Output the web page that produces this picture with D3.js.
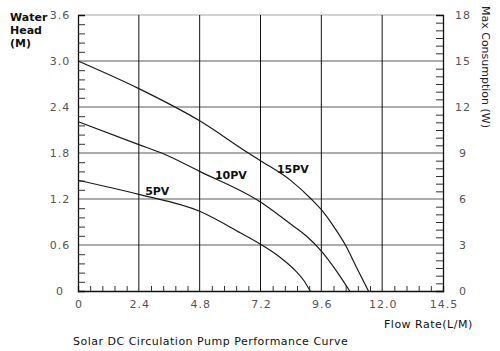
<!DOCTYPE html>
<html>
<head>
<meta charset="utf-8">
<script src="https://cdn.jsdelivr.net/npm/d3@7"></script>
<style>
  body { margin: 0; background: #fff; }
  text { font-family: "DejaVu Sans", sans-serif; }
</style>
</head>
<body>
<div id="chart"></div>
<script>
// curves: flow (L/M) vs head (M)
var flow15 = [0, 2.4, 4.8, 6.72, 7.2, 8.4, 9.2, 9.6, 10.05, 10.55, 11.0, 11.46];
var head15 = [3.0, 2.64, 2.22, 1.8, 1.7, 1.44, 1.2, 1.06, 0.86, 0.6, 0.3, 0];
var flow10 = [0, 2.4, 3.3, 4.8, 7.2, 8.4, 9.0, 9.6, 10.2, 10.72];
var head10 = [2.21, 1.91, 1.8, 1.56, 1.16, 0.87, 0.72, 0.52, 0.26, 0];
var flow5 = [0, 2.4, 4.8, 6.4, 7.2, 7.97, 8.5, 8.9, 9.16];
var head5 = [1.445, 1.26, 1.04, 0.76, 0.61, 0.44, 0.29, 0.14, 0];

var seriesNames = ["15PV", "10PV", "5PV"];
var labelFlow = [7.85, 5.4, 2.65];   // where the curve labels sit
var labelHead = [1.54, 1.46, 1.25];

var xTicks = [0, 2.4, 4.8, 7.2, 9.6, 12.0, 14.4];
var xTickLabels = ["0", "2.4", "4.8", "7.2", "9.6", "12.0", "14.5"];
var yTicks = [0, 0.6, 1.2, 1.8, 2.4, 3.0, 3.6];
var yTickLabels = ["0", "0.6", "1.2", "1.8", "2.4", "3.0", "3.6"];
var wTicks = [0, 3, 6, 9, 12, 15, 18];

var plotLeft = 78, plotRight = 443, plotTop = 15, plotBottom = 291;

var svg = d3.select("#chart")
    .append("svg")
    .attr("width", 500)
    .attr("height", 351)
    .style("background", "#fff");

var x = d3.scaleLinear().domain([0, 14.4]).range([plotLeft, plotRight]);
var y = d3.scaleLinear().domain([0, 3.6]).range([plotBottom, plotTop]);
var yW = d3.scaleLinear().domain([0, 18]).range([plotBottom, plotTop]);

// horizontal grid (grey)
svg.selectAll(".hgrid")
    .data(yTicks.slice(1, 6))
    .enter()
    .append("line")
    .attr("x1", plotLeft).attr("x2", plotRight)
    .attr("y1", function(d) { return y(d); })
    .attr("y2", function(d) { return y(d); })
    .style("stroke", "#909090")
    .style("stroke-width", 1.5);

svg.append("line")
    .attr("x1", plotLeft).attr("x2", plotRight)
    .attr("y1", y(3.6)).attr("y2", y(3.6))
    .style("stroke", "#c4c4c4")
    .style("stroke-width", 1.5);

// vertical grid (black)
svg.selectAll(".vgrid")
    .data(xTicks.slice(1, 6))
    .enter()
    .append("line")
    .attr("y1", plotTop).attr("y2", plotBottom)
    .attr("x1", function(d) { return x(d); })
    .attr("x2", function(d) { return x(d); })
    .style("stroke", "#111")
    .style("stroke-width", 1);

// minor ticks
var minorY = d3.range(1, 30).map(function(i) { return i * 0.12; }).filter(function(v, i) { return (i + 1) % 5 != 0; });
var minorW = d3.range(1, 36).map(function(i) { return i * 0.5; }).filter(function(v, i) { return (i + 1) % 6 != 0; });
var minorX = d3.range(1, 30).map(function(i) { return i * 0.48; }).filter(function(v, i) { return (i + 1) % 5 != 0; });

var gl = svg.append("g")
    .attr("transform", "translate(" + plotLeft + ",0)")
    .call(d3.axisLeft(y).tickValues(minorY).tickSize(-7).tickFormat(""));
var gr = svg.append("g")
    .attr("transform", "translate(" + plotRight + ",0)")
    .call(d3.axisRight(yW).tickValues(minorW).tickSize(-7).tickFormat(""));
var gb = svg.append("g")
    .attr("transform", "translate(0," + plotBottom + ")")
    .call(d3.axisBottom(x).tickValues(minorX).tickSize(-5).tickFormat(""));

[gl, gr, gb].forEach(function(g) {
  g.select(".domain").style("stroke", "#111").style("stroke-width", 1.3);
  g.selectAll(".tick line").style("stroke", "#333");
});

// tick labels
svg.selectAll(".ylab")
    .data(yTicks)
    .enter()
    .append("text")
    .attr("x", 60)
    .attr("y", function(d) { return y(d) + 4; })
    .attr("text-anchor", "middle")
    .style("font-size", "11px")
    .style("letter-spacing", "1px")
    .style("fill", "#555")
    .text(function(d, i) { return yTickLabels[i]; });

svg.selectAll(".wlab")
    .data(wTicks)
    .enter()
    .append("text")
    .attr("x", 463)
    .attr("y", function(d) { return yW(d) + 4; })
    .attr("text-anchor", "middle")
    .style("font-size", "11px")
    .style("letter-spacing", "1px")
    .style("fill", "#555")
    .text(function(d) { return d; });

svg.selectAll(".xlab")
    .data(xTicks)
    .enter()
    .append("text")
    .attr("x", function(d) { return x(d) + 1; })
    .attr("y", 308)
    .attr("text-anchor", "middle")
    .style("font-size", "11px")
    .style("letter-spacing", "1px")
    .style("fill", "#555")
    .text(function(d, i) { return xTickLabels[i]; });

// curves
var curveData = [
  d3.zip(flow15, head15),
  d3.zip(flow10, head10),
  d3.zip(flow5, head5)
];

var line = d3.line()
    .x(function(d) { return x(d[0]); })
    .y(function(d) { return y(d[1]); })
    .curve(d3.curveMonotoneX);

svg.selectAll(".curve")
    .data(curveData)
    .enter()
    .append("path")
    .attr("d", line)
    .style("fill", "none")
    .style("stroke", "#1a1a1a")
    .style("stroke-width", 1.2);

svg.selectAll(".pvlab")
    .data(seriesNames)
    .enter()
    .append("text")
    .attr("x", function(d, i) { return x(labelFlow[i]); })
    .attr("y", function(d, i) { return y(labelHead[i]); })
    .style("font-size", "11px")
    .style("font-weight", "bold")
    .style("fill", "#111")
    .text(function(d) { return d; });

// axis titles
var yt = svg.append("text")
    .style("font-size", "11px")
    .style("font-weight", "bold")
    .style("fill", "#111");
["Water", "Head", "(M)"].forEach(function(s, i) {
  yt.append("tspan").attr("x", 10).attr("y", 21 + i * 13).text(s);
});

svg.append("text")
    .attr("transform", "translate(482,67) rotate(90)")
    .attr("text-anchor", "middle")
    .style("font-size", "11px")
    .style("fill", "#222")
    .text("Max Consumption (W)");

svg.append("text")
    .attr("x", 384)
    .attr("y", 328)
    .style("font-size", "11px")
    .style("letter-spacing", "0.5px")
    .style("fill", "#111")
    .text("Flow Rate(L/M)");

svg.append("text")
    .attr("x", 73)
    .attr("y", 345)
    .style("font-size", "11px")
    .style("letter-spacing", "0.5px")
    .style("fill", "#111")
    .text("Solar DC Circulation Pump Performance Curve");
</script>
</body>
</html>
